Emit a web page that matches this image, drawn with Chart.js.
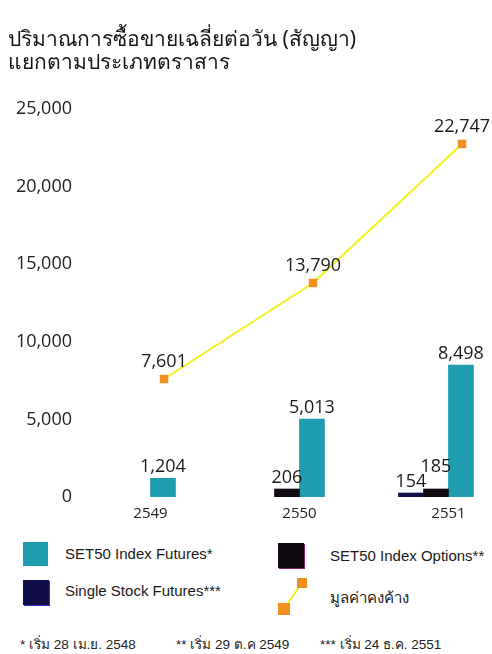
<!DOCTYPE html>
<html>
<head>
<meta charset="utf-8">
<script src="https://cdn.jsdelivr.net/npm/chart.js@4.4.0/dist/chart.umd.min.js"></script>
<style>
  body { margin: 0; background: #fff; }
  #wrap { position: relative; width: 492px; height: 654px; overflow: hidden; background: #fff;
          font-family: "Liberation Sans", Arial, sans-serif; color: #222; }
  #chartBox { position: absolute; left: 0; top: 0; width: 492px; height: 531px; }
  .title { position: absolute; left: 8px; font-family: "Noto Sans", "Open Sans", sans-serif;
           font-size: 21px; line-height: 24px; color: #151515; white-space: nowrap; }
  .sq { position: absolute; }
  .lg { position: absolute; font-size: 15px; white-space: nowrap; line-height: 18px; color: #1a1a1a; }
  .note { position: absolute; top: 636px; font-size: 13.5px; line-height: 18px; white-space: nowrap; color: #222; }
</style>
</head>
<body>
<div id="wrap">
  <div id="chartBox"><canvas id="volChart"></canvas></div>

  <div class="title" style="top:26px">ปริมาณการซื้อขายเฉลี่ยต่อวัน (สัญญา)</div>
  <div class="title" style="top:49px">แยกตามประเภทตราสาร</div>

  <!-- legenda -->
  <div class="sq" style="left:23px;top:542px;width:25px;height:24px;background:#1f9db0"></div>
  <div class="lg" style="left:65px;top:545px">SET50 Index Futures*</div>
  <div class="sq" style="left:278px;top:543px;width:26px;height:25px;background:#120a12;box-shadow:1px 1px 0 #8a2070"></div>
  <div class="lg" style="left:330px;top:547px">SET50 Index Options**</div>
  <div class="sq" style="left:23px;top:580px;width:26px;height:25px;background:#120e48;box-shadow:1px 1px 0 #2a2ad0"></div>
  <div class="lg" style="left:65px;top:582px">Single Stock Futures***</div>
  <svg style="position:absolute;left:276px;top:576px" width="34" height="42">
    <line x1="8" y1="33" x2="25" y2="8" stroke="#f2f21a" stroke-width="2"></line>
    <rect x="2" y="27" width="12" height="12" fill="#f2901c"></rect>
    <rect x="21" y="2" width="10" height="10" fill="#f2901c"></rect>
  </svg>
  <div class="lg" style="left:330px;top:589px">มูลค่าคงค้าง</div>

  <!-- note -->
  <div class="note" style="left:20px">* เริ่ม 28 เม.ย. 2548</div>
  <div class="note" style="left:176px">** เริ่ม 29 ต.ค 2549</div>
  <div class="note" style="left:320px">*** เริ่ม 24 ธ.ค. 2551</div>
</div>

<script>
/******************************/
/*********** DATI *************/
/******************************/

var years = ['2549', '2550', '2551'];
var set50Futures = [1204, 5013, 8498];
var set50Options = [null, 206, 185];
var singleStockFutures = [null, null, 154];
var openInterest = [7601, 13790, 22747];
var yTicks = [0, 5000, 10000, 15000, 20000, 25000];

var fontFamily = '"Open Sans", "Noto Sans", sans-serif';

// converto in punti {x, y} con l'indice dell'anno come x
function toPoints(values) {
  return values.map(function (v, i) {
    return { x: i, y: v };
  });
}

function formatNumber(n) {
  return n.toLocaleString('en-US');
}

function overlaps(a, b) {
  return a.left < b.right && b.left < a.right && a.top < b.bottom && b.top < a.bottom;
}

// etichette con i valori sopra barre e punti
// se due etichette si sovrappongono, alzo la seconda
var valueLabels = {
  id: 'valueLabels',
  afterDatasetsDraw: function (chart) {
    var ctx = chart.ctx;
    var drawn = [];
    ctx.save();
    ctx.fillStyle = '#1a1a1a';
    ctx.font = '18px ' + fontFamily;
    ctx.textAlign = 'center';
    ctx.textBaseline = 'alphabetic';
    chart.data.datasets.forEach(function (ds, di) {
      var meta = chart.getDatasetMeta(di);
      meta.data.forEach(function (el, i) {
        var v = ds.data[i].y;
        if (v === null || v === undefined) return;
        var txt = formatNumber(v);
        var w = ctx.measureText(txt).width;
        var base = el.y - (ds.type === 'line' ? 12 : 6);
        var box = { left: el.x - w / 2, right: el.x + w / 2, top: base - 13, bottom: base };
        drawn.forEach(function (d) {
          if (overlaps(box, d)) {
            base = d.top - 2;
            box.bottom = base;
            box.top = base - 13;
          }
        });
        drawn.push(box);
        ctx.fillText(txt, el.x, base);
      });
    });
    ctx.restore();
  }
};

var canvas = document.getElementById('volChart');

var myChart = new Chart(canvas, {
  type: 'bar',
  data: {
    datasets: [
      {
        type: 'line',
        label: 'มูลค่าคงค้าง',
        data: toPoints(openInterest),
        xAxisID: 'x2',
        borderColor: '#f2f21a',
        borderWidth: 2,
        pointStyle: 'rect',
        pointRadius: 6,
        pointBackgroundColor: '#f2901c',
        pointBorderColor: '#f2901c',
        pointBorderWidth: 0,
        order: 0
      },
      {
        label: 'Single Stock Futures***',
        data: toPoints(singleStockFutures),
        backgroundColor: '#120e48',
        borderColor: '#2a2ad0',
        borderWidth: { top: 0, left: 0, right: 0, bottom: 2 },
        minBarLength: 4,
        order: 1
      },
      {
        label: 'SET50 Index Options**',
        data: toPoints(set50Options),
        backgroundColor: '#120a12',
        borderColor: '#c0208a',
        borderWidth: { top: 0, left: 0, right: 0, bottom: 2 },
        minBarLength: 8,
        order: 1
      },
      {
        label: 'SET50 Index Futures*',
        data: toPoints(set50Futures),
        backgroundColor: '#1f9db0',
        order: 1
      }
    ]
  },
  options: {
    responsive: true,
    maintainAspectRatio: false,
    animation: false,
    barThickness: 25,
    layout: { padding: { top: 109, left: 0, right: 0, bottom: 0 } },
    plugins: {
      legend: { display: false },
      title: { display: false },
      tooltip: { enabled: false }
    },
    scales: {
      x: {
        type: 'linear',
        offset: false,
        min: -0.473,
        max: 2.252,
        grid: { display: false, drawTicks: false },
        border: { display: false },
        ticks: {
          stepSize: 1,
          includeBounds: false,
          padding: 8,
          color: '#222',
          font: { family: fontFamily, size: 15 },
          callback: function (value) {
            return years[value] !== undefined && Number.isInteger(value) ? years[value] : '';
          }
        }
      },
      x2: {
        type: 'linear',
        offset: false,
        display: false,
        min: -0.564,
        max: 2.161
      },
      y: {
        min: 0,
        max: 25000,
        grid: { display: false, drawTicks: false },
        border: { display: false },
        afterBuildTicks: function (scale) {
          scale.ticks = yTicks.map(function (v) { return { value: v }; });
        },
        afterFit: function (scale) {
          scale.width = 80;
        },
        ticks: {
          padding: 8,
          color: '#222',
          font: { family: fontFamily, size: 18 },
          callback: function (value) {
            return formatNumber(value);
          }
        }
      }
    }
  },
  plugins: [valueLabels]
});
</script>
</body>
</html>
